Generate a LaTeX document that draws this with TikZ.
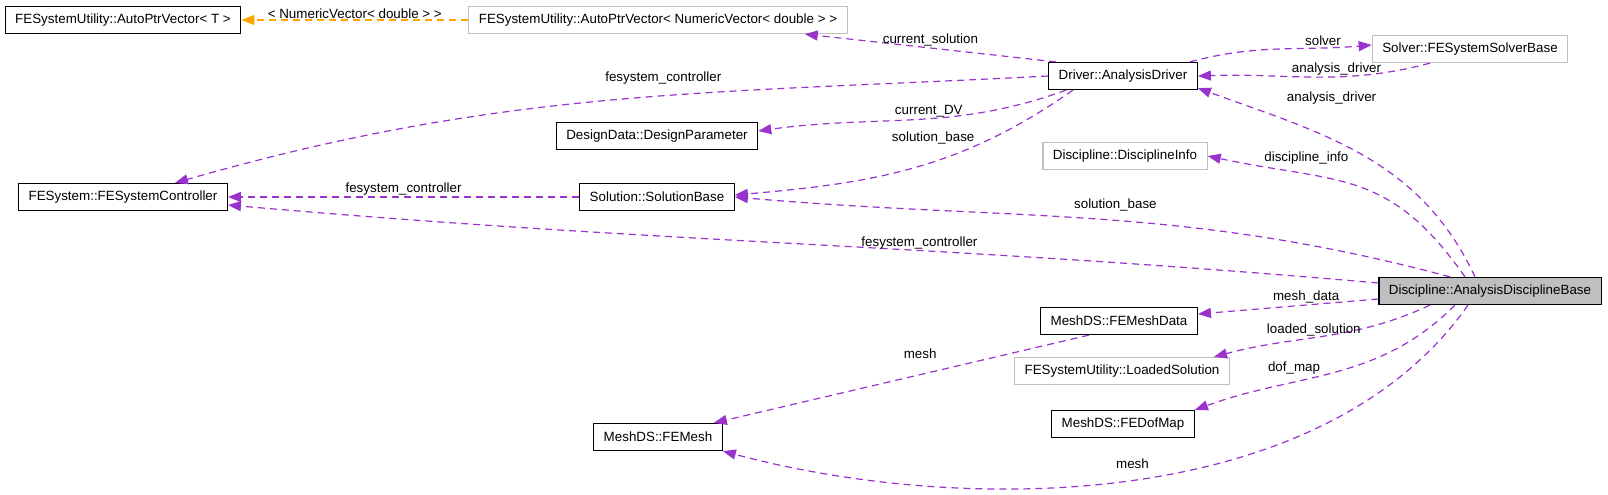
\documentclass[tikz,border=0pt]{standalone}
\usepackage{fontspec}
\setmainfont{Liberation Sans}
\usetikzlibrary{arrows.meta}

\definecolor{edgepurple}{HTML}{9A32CD}
\definecolor{tmplorange}{HTML}{FFA500}
\definecolor{nodocgray}{HTML}{BFBFBF}

\tikzset{
	cls/.style={draw=black,line width=0.48pt,fill=white,minimum height=10.8pt,inner xsep=4pt,inner ysep=0.8pt},
	clsgray/.style={cls,draw=nodocgray},
	usage/.style={edgepurple,line width=0.48pt,dash pattern=on 2.8pt off 2pt,-{Triangle[length=5.2pt,width=4pt]}},
	tmpl/.style={tmplorange,line width=0.48pt,dash pattern=on 2.8pt off 2pt,-{Triangle[length=5.2pt,width=4pt]}},
	lbl/.style={text=black,inner sep=0.4pt}
}

\begin{document}
\begin{tikzpicture}[x=0.4pt,y=0.4pt,font=\fontsize{5.35}{6}\selectfont]
	\useasboundingbox (0,0) rectangle (1608,-494);

	\node[cls] (AutoT) at(123,-20) {FESystemUtility::AutoPtrVector< T >};
	\node[clsgray] (AutoNV) at(658,-20) {FESystemUtility::AutoPtrVector< NumericVector< double > >};
	\node[cls] (Driver) at(1123,-76) {Driver::AnalysisDriver};
	\node[clsgray] (Solver) at(1470,-49) {Solver::FESystemSolverBase};
	\node[cls] (Ctrl) at(123,-197) {FESystem::FESystemController};
	\node[cls] (DParam) at(657,-136) {DesignData::DesignParameter};
	\node[cls] (SolBase) at(657,-197) {Solution::SolutionBase};
	\node[clsgray] (DInfo) at(1125,-156) {Discipline::DisciplineInfo};
	\node[cls,fill=nodocgray] (ADB) at(1490,-291) {Discipline::AnalysisDisciplineBase};
	\node[cls] (MData) at(1119,-321) {MeshDS::FEMeshData};
	\node[clsgray] (LSol) at(1122,-371) {FESystemUtility::LoadedSolution};
	\node[cls] (DofMap) at(1123,-424) {MeshDS::FEDofMap};
	\node[cls] (Mesh) at(658,-437) {MeshDS::FEMesh};

	\draw[tmpl] (AutoNV)to node[above,lbl]{< NumericVector< double > >}(AutoT);

	\draw[usage] ([xshift=3.2pt]Driver.north west)to node[above,lbl]{current\_solution}([xshift=-17.2pt]AutoNV.south east);
	\draw[usage] (Driver.west)to[out=183,in=16] node[pos=0.43,above=4pt,lbl]{fesystem\_controller}([xshift=20.8pt]Ctrl.north);
	\draw[usage] ([xshift=7.2pt]Driver.south west)to[out=200,in=8] node[pos=0.45,above,lbl]{current\_DV}([yshift=2pt]DParam.east);
	\draw[usage] ([xshift=-20pt]Driver.south)to[out=215,in=5] node[pos=0.3,above left,lbl]{solution\_base}([yshift=0.8pt]SolBase.east);
	\draw[usage] ([xshift=-3.2pt]Driver.north east)to[out=15,in=185] node[pos=0.75,above,lbl]{solver}([yshift=1.6pt]Solver.west);
	\draw[usage] ([xshift=-16pt]Solver.south)to[out=195,in=2] node[pos=0.4,above,lbl]{analysis\_driver}(Driver.east);
	\draw[usage] ([xshift=-6pt]ADB.north)to[out=115,in=-20] node[pos=0.78,above right=4pt,lbl]{analysis\_driver}([yshift=0.8pt]Driver.south east);
	\draw[usage] ([xshift=-10pt]ADB.north)to[out=125,in=-12,looseness=1.2] node[pos=0.7,above=3pt,lbl]{discipline\_info}(DInfo.east);
	\draw[usage] ([xshift=-16pt]ADB.north)to[out=165,in=-5] node[pos=0.47,above=3pt,lbl]{solution\_base}(SolBase.east);
	\draw[usage] ([yshift=3.2pt]ADB.west)to[out=175,in=-5] node[pos=0.39,above,lbl]{fesystem\_controller}([yshift=-3.2pt]Ctrl.east);
	\draw[usage] (SolBase)to node[above,lbl]{fesystem\_controller}(Ctrl);
	\draw[usage] ([yshift=-3.2pt]ADB.west)to node[pos=0.4,above,lbl]{mesh\_data}([yshift=2.8pt]MData.east);
	\draw[usage] ([xshift=-24pt]ADB.south)to[out=205,in=15] node[pos=0.55,above,lbl]{loaded\_solution}([xshift=-6.4pt]LSol.north east);
	\draw[usage] ([xshift=-14pt]ADB.south)to[out=225,in=20] node[pos=0.55,above left,lbl]{dof\_map}(DofMap.north east);
	\draw[usage] ([xshift=19.6pt]MData.south west)to node[pos=0.45,above=5.6pt,lbl]{mesh}([xshift=-3.6pt]Mesh.north east);
	\draw[usage] ([xshift=-8.8pt]ADB.south)to[out=235,in=-15,looseness=0.85] node[pos=0.5,above=4pt,lbl]{mesh}(Mesh.south east);
\end{tikzpicture}
\end{document}
